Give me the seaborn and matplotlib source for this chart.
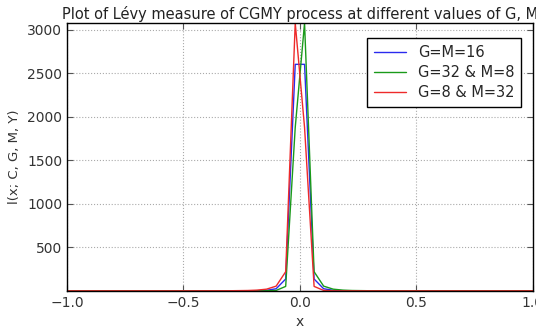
import pandas as pd
import matplotlib.pyplot as plt
import seaborn as sns

# x grid points (values outside the peak are ~0)
x_vals = [-1.0, -0.5, -0.3, -0.224, -0.184, -0.143, -0.102, -0.061, -0.020,
          0.020, 0.061, 0.102, 0.143, 0.184, 0.224, 0.3, 0.5, 1.0]

# G=M=16
blue_vals = [0.0001, 0.01, 0.09, 0.66, 1.9, 6.1, 24, 136, 2605,
             2605, 136, 24, 6.1, 1.9, 0.66, 0.09, 0.01, 0.0001]
# G=32 & M=8
green_vals = [0.0001, 0.0001, 0.001, 0.02, 0.1, 0.6, 4.7, 51, 1880,
              3080, 220, 54, 19.3, 8.2, 3.9, 1.13, 0.08, 0.0004]
# G=8 & M=32
red_vals = [0.0004, 0.08, 1.13, 3.9, 8.2, 19.3, 54, 220, 3080,
            1880, 51, 4.7, 0.6, 0.1, 0.02, 0.001, 0.0001, 0.0001]

labels = ["G=M=16", "G=32 & M=8", "G=8 & M=32"]
colors = ["#2a2aee", "#1a9a1a", "#ee2a2a"]

df = pd.concat([
    pd.DataFrame({"x": x_vals, "y": blue_vals, "case": labels[0]}),
    pd.DataFrame({"x": x_vals, "y": green_vals, "case": labels[1]}),
    pd.DataFrame({"x": x_vals, "y": red_vals, "case": labels[2]}),
])

sns.set_style("white")
plt.rcParams["font.family"] = ["DejaVu Sans"]
plt.rcParams["xtick.direction"] = "in"
plt.rcParams["ytick.direction"] = "in"

fig = plt.figure(figsize=(5.36, 3.29), dpi=100)
ax = fig.add_axes([0.125, 0.116, 0.869, 0.814])

sns.lineplot(data=df, x="x", y="y", hue="case", hue_order=labels,
             palette=colors, linewidth=1.0, ax=ax, sort=False)

ax.set_xlim(-1.0, 1.0)
ax.set_ylim(min(blue_vals + green_vals + red_vals), max(blue_vals + green_vals + red_vals))
ax.set_xticks([-1.0, -0.5, 0.0, 0.5, 1.0])
ax.set_yticks([500, 1000, 1500, 2000, 2500, 3000])
ax.tick_params(axis="both", which="both", top=True, right=True, bottom=True, left=True,
               length=4, width=0.8, color="#555555", labelsize=10, labelcolor="#333333")
ax.grid(True, linestyle=":", color="#aaaaaa", linewidth=0.8)
for s in ax.spines.values():
    s.set_color("black")
    s.set_linewidth(1.0)

ax.set_title("Plot of Lévy measure of CGMY process at different values of G, M",
             fontsize=10.5, color="#222222", pad=3)
ax.set_xlabel("x", fontsize=10, color="#333333")
ax.set_ylabel("l(x; C, G, M, Y)", fontsize=9.5, color="#333333")

leg = ax.legend(loc="upper right", fontsize=10.5, frameon=True, fancybox=False,
                handlelength=2.2, borderpad=0.45, labelspacing=0.35,
                bbox_to_anchor=(0.99, 0.97))
leg.get_frame().set_edgecolor("black")
leg.get_frame().set_linewidth(1.0)
leg.get_frame().set_alpha(1.0)

fig.savefig("out.png", dpi=100)
